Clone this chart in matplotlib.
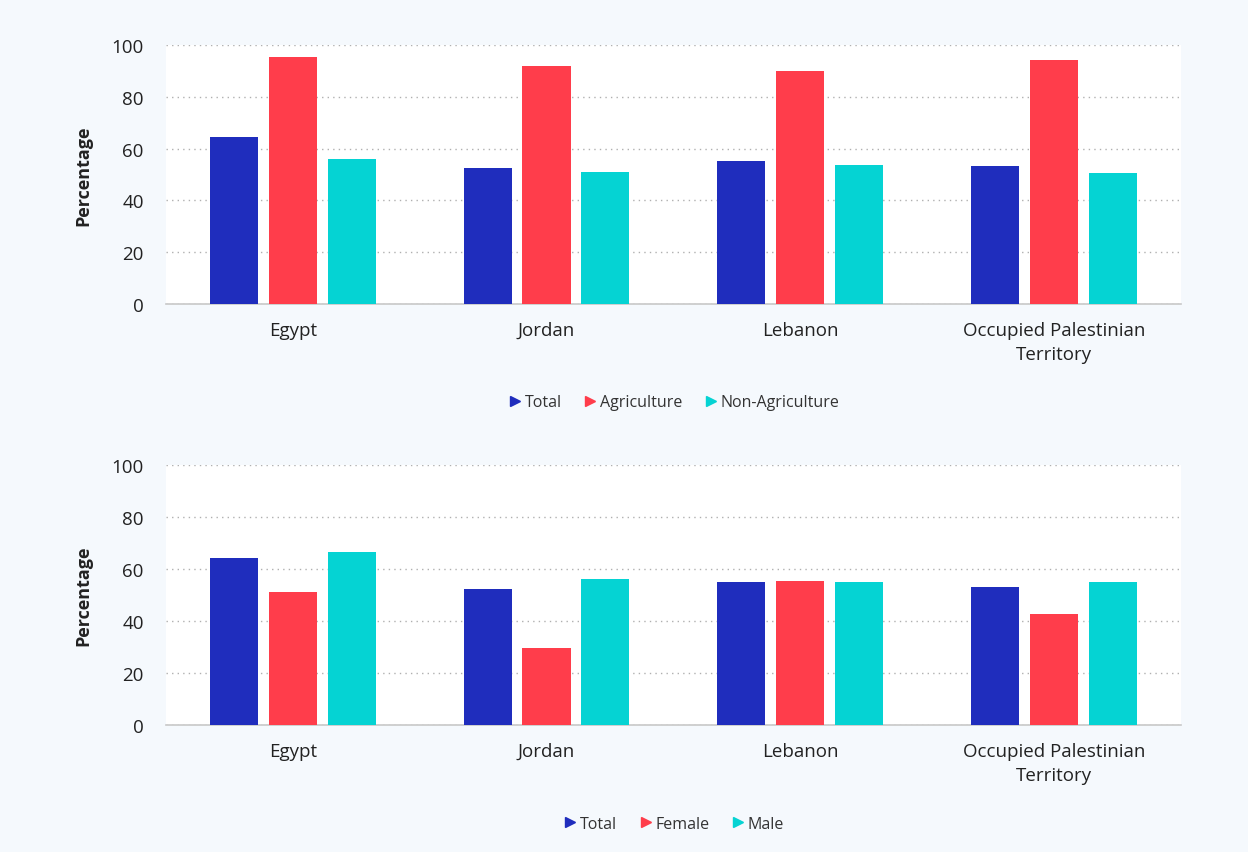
import numpy as np
import matplotlib.pyplot as plt
from matplotlib.lines import Line2D

plt.rcParams['font.family'] = ['Open Sans', 'Noto Sans', 'DejaVu Sans']

countries = ['Egypt', 'Jordan', 'Lebanon', 'Occupied Palestinian\nTerritory']

# top panel: by sector
sector_labels = ['Total', 'Agriculture', 'Non-Agriculture']
total_top = [64.5, 52.5, 55.2, 53.3]
agriculture = [95.4, 91.9, 90.0, 94.2]
non_agriculture = [56.0, 51.0, 53.7, 50.6]

# bottom panel: by sex
sex_labels = ['Total', 'Female', 'Male']
total_bottom = [64.2, 52.3, 55.0, 53.1]
female = [51.2, 29.6, 55.4, 42.7]
male = [66.5, 56.2, 55.0, 55.0]

colors = ['#1f2dbd', '#ff3d4b', '#05d3d3']
bg = '#f5f9fd'

fig = plt.figure(figsize=(12.48, 8.53), dpi=100)
fig.patch.set_facecolor(bg)

ax1 = fig.add_axes([0.133, 0.6424, 0.813, 0.3036])
ax2 = fig.add_axes([0.133, 0.1489, 0.813, 0.3048])


def draw_panel(ax, series, labels, legend_y):
    x = np.arange(len(countries))
    width = 0.19
    offsets = [-0.232, 0, 0.232]
    for vals, off, c in zip(series, offsets, colors):
        ax.bar(x + off, vals, width, color=c, zorder=3)
    ax.set_xlim(-0.5, len(countries) - 0.5)
    ax.set_ylim(0, 100)
    ax.set_yticks([0, 20, 40, 60, 80, 100])
    ax.set_xticks(x)
    ax.set_xticklabels(countries, fontsize=13.5, color='#222222', linespacing=1.45)
    ax.tick_params(axis='both', length=0, colors='#222222')
    ax.tick_params(axis='y', labelsize=13.5, pad=16)
    ax.tick_params(axis='x', pad=12)
    ax.yaxis.grid(True, linestyle=(0, (1, 3)), color='#b0b0b0', linewidth=1, zorder=0)
    ax.set_axisbelow(True)
    for s in ['top', 'right', 'left']:
        ax.spines[s].set_visible(False)
    ax.spines['bottom'].set_color('#c8c8c8')
    ax.spines['bottom'].set_linewidth(1.2)
    ax.set_facecolor('white')
    ax.set_ylabel('Percentage', fontsize=13, fontweight='bold', color='#222222', labelpad=14)
    handles = [Line2D([], [], marker='>', linestyle='none', color=c, markersize=7)
               for c in colors]
    ax.legend(handles, labels, loc='center', bbox_to_anchor=(0.5, legend_y),
              ncol=3, frameon=False, fontsize=11.5, handletextpad=0.1,
              handlelength=1.0, columnspacing=1.3, labelcolor='#333333')


draw_panel(ax1, [total_top, agriculture, non_agriculture], sector_labels, -0.38)
draw_panel(ax2, [total_bottom, female, male], sex_labels, -0.38)

fig.savefig('out.png', dpi=100, facecolor=bg)
